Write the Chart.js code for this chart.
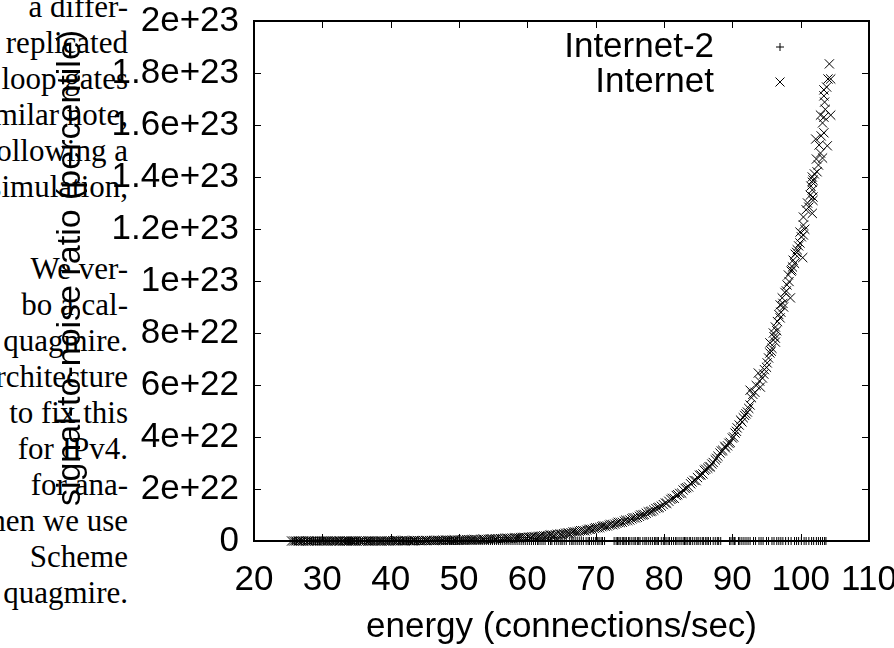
<!DOCTYPE html>
<html>
<head>
<meta charset="utf-8">
<script src="https://cdn.jsdelivr.net/npm/chart.js@4.4.1/dist/chart.umd.min.js"></script>
<style>
  html, body { margin: 0; padding: 0; background: #fff; overflow: hidden; }
  #wrap { position: relative; width: 894px; height: 648px; overflow: hidden; }
  #paper div { position: absolute; white-space: nowrap; font-family: 'Liberation Serif', serif; font-size: 31px; line-height: 36px; color: #000; }
  canvas { position: absolute; left: 0; top: 0; }
</style>
</head>
<body>
<div id="wrap">
  <div id="paper"></div>
  <canvas id="chart" width="894" height="648"></canvas>
</div>
<script>
// text of the page the figure sits in (cut off at the left edge)
const paperLines = ['a differ-', 'replicated', 'loop gates', 'similar note,', 'following a', 'simulation,',
  'We ver-', 'bo a cal-', 'quagmire.', 'architecture', 'to fix this', 'for IPv4.', 'for ana-',
  'when we use', 'Scheme', 'quagmire.'];
const paperBaselines = [17, 53, 89, 125, 161, 197, 279, 315, 351, 387, 423, 459, 495, 531, 567, 603];

const seriesNames = ['Internet-2', 'Internet'];
const xTitle = 'energy (connections/sec)';
const yTitle = 'signal-to-noise ratio (percentile)';
const yTickLabels = ['0', '2e+22', '4e+22', '6e+22', '8e+22', '1e+23', '1.2e+23', '1.4e+23', '1.6e+23', '1.8e+23', '2e+23'];

// [energy, snr in units of 1e21]
const internet2Pts = [
  [25.6,0],[26.2,0],[26.9,0],[27.4,0],[28.1,0],[28.7,0],[29.3,0],[29.8,0],[30.5,0],[31.1,0],
  [31.6,0],[32.3,0],[32.9,0],[33.4,0],[34.1,0],[34.7,0],[35.3,0],[35.9,0],[36.5,0],[37.1,0],
  [37.6,0],[38.3,0],[38.9,0],[39.5,0],[40.2,0],[40.8,0],[41.4,0],[41.9,0],[42.6,0],[43.2,0],
  [43.8,0],[44.4,0],[45.0,0],[45.6,0],[46.2,0],[46.8,0],[47.4,0],[48.0,0],[48.6,0],[49.2,0],
  [49.8,0],[50.4,0],[51.0,0],[51.6,0],[52.2,0],[52.8,0],[53.4,0],[54.0,0],[54.6,0],[55.2,0],
  [55.8,0],[56.4,0],[57.0,0],[57.6,0],[58.2,0],[58.8,0],[59.4,0],[60.0,0],[60.6,0],[61.2,0],
  [61.7,0],[62.3,0],[63.1,0],[63.6,0],[64.3,0],[64.9,0],[65.4,0],[66.2,0],[66.7,0],[67.3,0],
  [67.9,0],[68.6,0],[69.1,0],[69.7,0],[70.3,0],[70.8,0],[71.3,0],[72.7,0],[73.2,0],[73.6,0],
  [74.1,0],[74.5,0],[75.0,0],[75.6,0],[76.1,0],[76.5,0],[77.2,0],[77.7,0],[78.3,0],[78.8,0],
  [79.2,0],[79.9,0],[80.3,0],[80.8,0],[81.4,0],[81.9,0],[82.5,0],[83.0,0],[83.4,0],[83.9,0],
  [84.5,0],[85.0,0],[85.6,0],[86.1,0],[86.5,0],[87.2,0],[87.8,0],[88.3,0],[89.6,0],[90.1,0],
  [90.4,0],[90.9,0],[91.4,0],[92.0,0],[92.6,0],[93.1,0],[93.9,0],[94.5,0],[95.3,0],[96.1,0],
  [96.8,0],[97.4,0],[98.2,0],[99.1,0],[99.7,0],[100.5,0],[101.2,0],[101.9,0],[102.6,0],[103.2,0],
  [103.7,0],
  [25.9,0],[26.6,0],[27.2,0],[27.8,0],[28.4,0],[29.0,0],[29.6,0],[30.2,0],[30.8,0],[31.4,0],
  [32.0,0],[32.6,0],[33.2,0],[33.8,0],[34.4,0],[35.0,0],[35.6,0],[36.2,0],[36.8,0],[37.4,0],
  [38.0,0],[38.6,0],[39.2,0],[39.8,0],[40.5,0],[41.1,0],[41.7,0],[42.3,0],[42.9,0],[43.5,0],
  [44.1,0],[44.7,0],[45.3,0],[45.9,0],[46.5,0],[47.1,0],[47.7,0],[48.3,0],[48.9,0],[49.5,0],
  [50.1,0],[50.7,0],[51.3,0],[51.9,0],[52.5,0],[53.1,0],[53.7,0],[54.3,0],[54.9,0],[55.5,0],
  [56.1,0],[56.7,0],[57.3,0],[57.9,0],[58.5,0],[59.1,0],[59.7,0],[60.3,0],[60.9,0],[61.5,0],
  [62.0,0],[62.6,0],[63.4,0],[64.0,0],[64.6,0],[65.1,0],[65.7,0],[66.5,0],[67.0,0],[67.6,0],
  [68.2,0],[68.9,0],[69.4,0],[70.0,0],[70.5,0],[71.0,0],[73.0,0],[73.4,0],[73.9,0],[74.3,0],
  [74.8,0],[75.3,0],[75.8,0],[76.3,0],[76.9,0],[77.4,0],[78.0,0],[78.6,0],[79.0,0],[79.6,0],
  [80.1,0],[80.6,0],[81.1,0],[81.7,0],[82.2,0],[82.8,0],[83.2,0],[83.7,0],[84.2,0],[84.8,0],
  [85.3,0],[85.8,0],[86.3,0],[86.8,0],[87.5,0],[88.0,0],[89.8,0],[90.3,0],[91.1,0],[91.7,0],
  [92.3,0],[93.4,0],[94.2,0],[95.0,0],[95.8,0],[96.5,0],[97.1,0],[97.8,0],[98.6,0],[99.4,0],
  [100.1,0],[100.8,0],[101.6,0],[102.3,0],[102.9,0],[103.5,0]
];
const internetPts = [
  [25.5,0],[26.1,0],[26.6,0],[27.2,0],[27.9,0],[28.4,0],[29.0,0],[29.7,0],[30.3,0],[30.8,0],
  [31.5,0],[32.1,0],[32.6,0],[33.3,0],[33.9,0],[34.5,0],[35.0,0],[35.7,0],[36.4,0],[36.9,0],
  [37.5,0],[38.2,0],[38.7,0],[39.4,0],[40.0,0],[40.6,0.1],[41.1,0.1],[41.8,0.1],[42.4,0.1],[43.0,0.1],
  [43.5,0.1],[44.2,0.1],[44.8,0.2],[45.3,0.2],[46.0,0.2],[46.6,0.2],[47.2,0.2],[47.7,0.3],[48.4,0.3],[49.0,0.3],
  [49.5,0.3],[50.2,0.4],[50.8,0.4],[51.4,0.5],[51.9,0.5],[52.5,0.5],[53.2,0.6],[53.7,0.6],[54.3,0.7],[54.9,0.8],
  [55.4,0.8],[56.1,0.9],[56.7,1.0],[57.2,1.0],[57.8,1.1],[58.5,1.2],[59.0,1.3],[59.6,1.4],[60.2,1.5],
  [60.7,1.6],[61.3,1.6],[61.8,1.8],[62.4,2.0],[63.0,2.1],[63.5,2.3],[64.1,2.4],[64.8,2.7],[65.3,2.8],[65.9,3.1],
  [66.4,3.2],[67.0,3.5],[67.6,3.7],[68.1,4.0],[68.7,4.2],[69.2,4.5],[69.8,4.8],
  [70.3,5.1],[70.9,5.5],[71.4,5.7],[72.0,6.1],[72.5,6.3],[73.1,6.8],[73.6,7.1],[74.2,7.6],[74.7,7.9],[75.3,8.5],
  [75.8,8.9],[76.4,9.5],[76.9,10.0],[77.4,10.7],[78.0,11.3],[78.5,11.9],[79.1,12.8],[79.6,13.4],
  [80.2,14.6],[80.7,15.3],[81.2,16.4],[81.8,17.5],[82.3,18.3],[82.8,19.6],[83.3,20.5],[83.9,22.0],[84.4,23.3],[84.9,24.4],
  [85.4,25.4],[85.9,27.2],[86.4,28.0],[86.8,28.5],[87.2,30.2],[87.5,31.2],[87.9,32.6],[88.2,33.8],[88.6,34.9],[89.0,35.8],
  [89.3,36.6],[89.7,37.9],[90.0,39.6],[90.4,41.5],[90.7,43.5],[91.0,44.6],[91.2,46.5],[91.6,47.4],[92.2,49.6],[92.4,51.0],
  [92.6,52.3],[92.8,55.1],[92.6,58.0],[93.3,57.2],[93.8,64.6],[94.1,59.2],[94.4,62.7],[94.7,65.9],[95.1,68.5],[95.3,70.4],
  [95.5,72.3],[95.5,76.2],[95.8,74.1],[96.0,80.0],[96.3,76.5],[96.3,78.0],[96.3,82.3],[96.6,84.4],[96.8,87.1],[97.0,85.8],
  [97.0,90.8],[97.3,93.5],[97.5,90.0],[97.7,95.6],[98.0,98.5],[98.2,102.3],[98.5,93.5],[98.6,103.8],[98.8,105.4],[98.9,108.0],
  [99.2,110.3],[99.5,112.0],[99.9,114.6],[99.9,118.8],[100.3,109.0],[100.4,117.7],[100.4,121.5],[100.4,124.6],[100.8,127.4],[101.0,130.0],
  [101.4,133.0],[101.7,126.0],[101.7,135.0],[101.7,138.0],[101.7,140.0],[101.8,131.0],[101.8,132.3],[101.8,138.8],[102.2,154.6],[102.4,142.0],
  [102.6,144.6],[102.9,149.2],[102.9,163.8],[103.2,147.3],[103.2,160.8],[103.4,157.0],[103.4,163.0],[103.4,171.2],[103.4,173.5],[103.5,168.8],
  [103.9,152.0],[104.0,177.7],[104.2,183.5],[104.4,163.8],[104.4,177.7],
  [25.8,0],[26.4,0],[26.9,0],[27.6,0],[28.1,0],[28.7,0],[29.3,0],[30.0,0],[30.6,0],[31.2,0],
  [31.8,0],[32.4,0],[33.0,0],[33.6,0],[34.2,0],[34.8,0],[35.4,0],[36.0,0],[36.7,0],[37.2,0],
  [37.8,0],[38.5,0],[39.1,0],[39.7,0],[40.3,0.1],[40.9,0.1],[41.5,0.1],[42.1,0.1],[42.7,0.1],[43.3,0.1],
  [43.9,0.2],[44.5,0.1],[45.1,0.2],[45.7,0.2],[46.3,0.2],[46.9,0.3],[47.5,0.2],[48.1,0.3],[48.7,0.3],[49.3,0.4],
  [49.9,0.3],[50.5,0.4],[51.1,0.5],[51.7,0.4],[52.2,0.6],[52.8,0.5],[53.5,0.7],[54.0,0.6],[54.6,0.8],[55.2,0.7],
  [55.7,0.9],[56.4,0.9],[57.0,1.1],[57.5,1.0],[58.2,1.2],[58.8,1.1],[59.3,1.4],[59.9,1.3],
  [60.5,1.4],[61.0,1.7],[61.6,1.6],[62.1,1.9],[62.7,1.9],[63.3,2.3],[63.8,2.2],[64.4,2.6],[65.0,2.6],[65.6,3.0],
  [66.1,3.0],[66.7,3.5],[67.3,3.5],[67.8,4.0],[68.4,3.9],[69.0,4.5],[69.5,4.5],[70.0,5.1],[70.6,5.2],[71.1,5.8],
  [71.7,5.8],[72.2,6.4],[72.8,6.5],[73.3,7.2],[73.9,7.2],[74.4,8.0],[75.0,8.1],[75.5,8.9],[76.1,9.1],[76.6,10.0],
  [77.1,10.2],[77.7,11.2],[78.2,11.5],[78.8,12.5],[79.3,12.9],[79.9,14.0],[80.4,14.5],[81.0,16.0],[81.5,16.4],[82.0,17.8],
  [82.6,18.4],[83.1,20.2],[83.6,20.8],[84.1,22.7],[84.7,23.2],[85.2,25.3],[85.7,25.8],[86.1,27.6],[86.6,28.6],[87.0,29.6],
  [87.7,31.8],[88.4,34.6],[88.9,36.4],[89.5,37.6],[90.2,40.0],[90.6,42.2],[91.4,45.8],[91.8,48.3],[92.0,48.9],[93.0,56.4],
  [93.5,59.8],[94.0,61.5],[94.6,64.2],[95.0,66.8],[95.7,73.0],[96.1,78.6],[96.5,80.9],[97.1,88.0],[97.4,91.4],[97.9,96.2],
  [98.3,99.8],[98.7,104.3],[99.1,106.8],[99.4,111.0],[99.7,113.5],[100.1,117.0],[100.6,119.9],[101.2,128.4],[101.5,136.5],[102.0,141.2],
  [102.3,146.9],[102.7,152.3],[103.0,155.8],[103.6,166.0],[103.8,174.6]
];

const FONT = "'Liberation Sans', Arial, sans-serif";

// page text behind the plot
const paper = document.getElementById('paper');
paperLines.forEach((t, i) => {
  const d = document.createElement('div');
  d.textContent = t;
  d.style.right = (894 - 128) + 'px';
  d.style.top = (paperBaselines[i] - 28) + 'px';
  paper.appendChild(d);
});

// gnuplot style box, inward ticks, y label and key
const gnuFrame = {
  id: 'gnuFrame',
  afterDatasetsDraw(chart) {
    const { ctx, chartArea: a, scales: { x, y } } = chart;
    const tl = 7;
    ctx.save();
    ctx.strokeStyle = '#000';
    ctx.lineWidth = 1;
    ctx.beginPath();
    x.ticks.forEach(t => {
      const px = Math.round(x.getPixelForValue(t.value)) + 0.5;
      ctx.moveTo(px, a.bottom); ctx.lineTo(px, a.bottom - tl);
      ctx.moveTo(px, a.top); ctx.lineTo(px, a.top + tl);
    });
    y.ticks.forEach(t => {
      const py = Math.round(y.getPixelForValue(t.value)) + 0.5;
      ctx.moveTo(a.left, py); ctx.lineTo(a.left + tl, py);
      ctx.moveTo(a.right, py); ctx.lineTo(a.right - tl, py);
    });
    ctx.stroke();
    ctx.lineWidth = 2;
    ctx.strokeRect(a.left, a.top, a.right - a.left, a.bottom - a.top);

    ctx.fillStyle = '#000';
    ctx.textBaseline = 'middle';

    // y label, rotated
    ctx.save();
    ctx.translate(71, 268);
    ctx.rotate(-Math.PI / 2);
    ctx.textAlign = 'center';
    ctx.font = '34px ' + FONT;
    ctx.fillText(yTitle, 0, 0);
    ctx.restore();

    // key
    ctx.font = '35px ' + FONT;
    ctx.textAlign = 'right';
    const rows = [47, 82];
    ctx.lineWidth = 1;
    seriesNames.forEach((name, i) => {
      ctx.fillText(name, 714, rows[i]);
      const mx = 780, my = rows[i];
      ctx.beginPath();
      if (i === 0) {
        ctx.moveTo(mx - 4, my); ctx.lineTo(mx + 4, my);
        ctx.moveTo(mx, my - 4); ctx.lineTo(mx, my + 4);
      } else {
        ctx.moveTo(mx - 4.5, my - 4.5); ctx.lineTo(mx + 4.5, my + 4.5);
        ctx.moveTo(mx - 4.5, my + 4.5); ctx.lineTo(mx + 4.5, my - 4.5);
      }
      ctx.stroke();
    });
    ctx.restore();
  }
};

new Chart(document.getElementById('chart'), {
  type: 'scatter',
  data: {
    datasets: [{
      label: seriesNames[0],
      data: internet2Pts.map(p => ({ x: p[0], y: p[1] })),
      pointStyle: 'cross',
      pointRadius: 4,
      borderColor: '#000',
      borderWidth: 1,
      backgroundColor: 'transparent',
      clip: false
    }, {
      label: seriesNames[1],
      data: internetPts.map(p => ({ x: p[0], y: p[1] })),
      pointStyle: 'crossRot',
      pointRadius: 6.5,
      borderColor: '#000',
      borderWidth: 1,
      backgroundColor: 'transparent',
      clip: false
    }]
  },
  options: {
    responsive: false,
    animation: false,
    layout: { padding: { left: 0, right: 25, top: 21, bottom: 0 } },
    plugins: {
      legend: { display: false },
      tooltip: { enabled: false }
    },
    scales: {
      x: {
        type: 'linear',
        min: 20,
        max: 110,
        grid: { display: false, drawTicks: false },
        border: { display: false },
        ticks: {
          stepSize: 10,
          padding: 18,
          color: '#000',
          font: { family: FONT, size: 35 }
        },
        title: {
          display: true,
          text: xTitle,
          color: '#000',
          font: { family: FONT, size: 35 },
          padding: { top: 0, bottom: 0 }
        },
        afterFit(s) { s.height = 107; s.paddingLeft = 0; s.paddingRight = 0; }
      },
      y: {
        min: 0,
        max: 200,
        grid: { display: false, drawTicks: false },
        border: { display: false },
        ticks: {
          stepSize: 20,
          padding: 15,
          color: '#000',
          font: { family: FONT, size: 35 },
          callback: (v, i) => yTickLabels[i]
        },
        afterFit(s) { s.width = 254; s.paddingTop = 0; s.paddingBottom = 0; }
      }
    }
  },
  plugins: [gnuFrame]
});
</script>
</body>
</html>
